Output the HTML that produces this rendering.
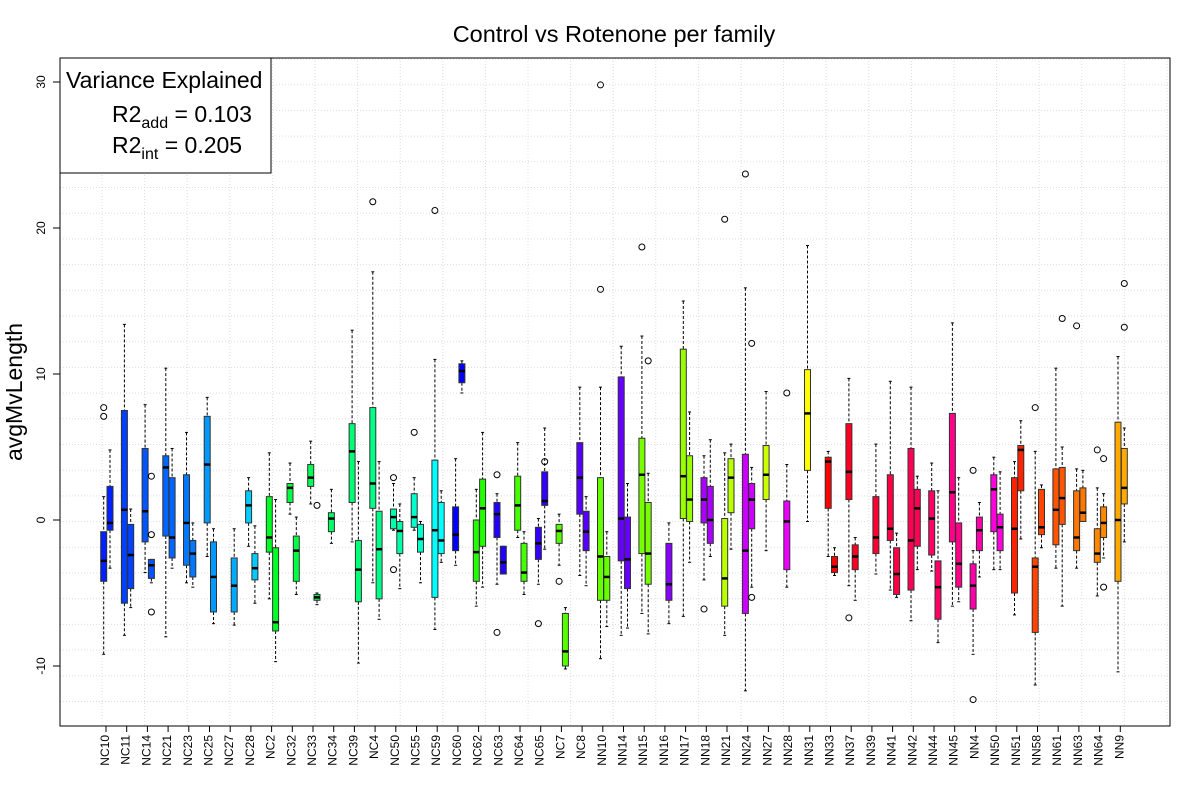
<!DOCTYPE html>
<html><head><meta charset="utf-8"><style>
body{margin:0;background:#fff}
svg{display:block;font-family:"Liberation Sans",sans-serif}
</style></head><body>
<svg id="chart" width="1200" height="800" xmlns="http://www.w3.org/2000/svg">
<rect x="0" y="0" width="1200" height="800" fill="#fff"/>
<g id="grid"></g>
<g id="boxes"></g>
<rect x="60" y="58" width="1110" height="668" fill="none" stroke="#000" stroke-width="1"/>
<g id="axes"></g>
<text x="614" y="42" font-size="23.5" text-anchor="middle">Control vs Rotenone per family</text>
<text transform="translate(22,392) rotate(-90)" font-size="23" text-anchor="middle">avgMvLength</text>
<g>
<rect x="60" y="58" width="211" height="115" fill="#fff" stroke="#000"/>
<text x="66" y="88" font-size="23">Variance Explained</text>
<text x="112" y="122" font-size="23">R2<tspan font-size="16" dy="6">add</tspan><tspan dy="-6"> = 0.103</tspan></text>
<text x="112" y="153" font-size="23">R2<tspan font-size="16" dy="6">int</tspan><tspan dy="-6"> = 0.205</tspan></text>
</g>
</svg>
<script>
const cats=["NC10","NC11","NC14","NC21","NC23","NC25","NC27","NC28","NC2","NC32","NC33","NC34","NC39","NC4","NC50","NC55","NC59","NC60","NC62","NC63","NC64","NC65","NC7","NC8","NN10","NN14","NN15","NN16","NN17","NN18","NN21","NN24","NN27","NN28","NN31","NN33","NN37","NN39","NN41","NN42","NN44","NN45","NN4","NN50","NN51","NN58","NN61","NN63","NN64","NN9"];
const colors=["#0020ff","#0040ff","#0055ff","#0066ff","#0077ff","#0099ff","#00aaff","#00ccff","#00ff22","#00ff44","#00ff55","#00ff66","#00ff77","#00ff88","#00ffaa","#00ffcc","#00ffff","#0000ff","#22ff00","#2200ff","#44ff00","#3300ff","#55ff00","#5500ff","#66ff00","#6600ff","#77ff00","#8800ff","#99ff00","#aa00ff","#bbff00","#cc00ff","#ccff00","#ee00ff","#ffff00","#ff0000","#ff0022","#ff0033","#ff0044","#ff0055","#ff0066","#ff0088","#ff00aa","#ff00dd","#ff2200","#ff4400","#ff5500","#ff7700","#ff8800","#ffaa00"];
// [lowWhisker, q1, median, q3, highWhisker]
const ctrl=[[-9.2,-4.2,-2.8,-0.8,1.6],[-7.9,-5.7,0.7,7.5,13.4],[-3.6,-1.5,0.6,4.9,7.9],[-8.0,-1.1,3.6,4.4,10.4],[-4.3,-3.1,-0.2,3.1,6.0],[-2.5,-0.2,3.8,7.1,8.4],null,[-1.8,-0.2,1.0,2.0,2.9],[-5.4,-2.2,-1.2,1.6,4.6],[0.4,1.2,2.2,2.5,3.9],[1.1,2.3,2.9,3.8,5.4],[-1.6,-0.8,0.1,0.5,2.1],[-1.5,1.2,4.7,6.6,13.0],[-4.3,0.8,2.5,7.7,17.0],[-0.7,-0.6,0.2,0.75,2.5],[-0.7,-0.5,0.2,1.8,2.9],[-7.5,-5.3,-0.7,4.1,11.0],[-3.1,-2.1,-1.0,0.9,4.2],[-5.9,-4.2,-2.2,0,2.1],[-4.4,-1.2,0.4,1.2,1.8],[-1.2,-0.7,1.0,3.0,5.3],[-4.4,-2.7,-1.6,-0.5,0.1],[-3.1,-1.6,-0.75,-0.3,0.4],[-3.8,0.4,2.9,5.3,9.1],[-9.5,-5.5,-2.5,2.9,9.1],[-7.9,-2.8,0.1,9.8,11.9],[-6.4,-2.3,3.1,5.6,12.6],null,[-6.6,0.1,3.0,11.7,15.0],[-4.1,-0.2,1.4,2.9,4.4],[-7.9,-5.9,-4.0,0.1,4.6],[-11.7,-6.4,-2.1,4.5,15.9],[-2.1,1.4,3.1,5.1,8.8],[-4.6,-3.4,-0.1,1.3,3.8],[-0.1,3.4,7.3,10.3,18.8],[-2.5,0.8,4.0,4.3,4.7],[-4.5,1.4,3.3,6.6,9.7],null,[-4.8,-1.4,-0.6,3.1,9.5],[-6.9,-4.8,-1.4,4.9,9.1],[-3.5,-2.4,0.1,2.0,3.9],[-5.9,-1.5,1.9,7.3,13.5],[-9.2,-6.1,-4.5,-3.0,-2.1],[-3.4,-0.8,2.1,3.1,4.3],[-6.5,-5.0,-0.6,2.9,4.0],[-11.3,-7.7,-3.2,-2.6,4.7],[-3.3,-1.7,0.7,3.5,10.4],[-3.3,-2.1,-1.2,2.0,3.5],[-5.2,-2.9,-2.3,-0.6,2.2],[-10.4,-4.2,0,6.7,11.2]];
const rot=[[-3.3,-0.7,-0.2,2.3,4.8],[-6.0,-4.7,-2.4,-0.3,0.75],[-4.3,-4.0,-3.1,-2.7,-2.7],[-3.3,-2.6,-1.2,2.9,4.9],[-4.6,-3.9,-2.3,-1.4,-0.2],[-7.1,-6.3,-3.9,-1.5,-0.6],[-7.2,-6.3,-4.5,-2.6,-0.6],[-5.7,-4.1,-3.3,-2.3,-0.4],[-9.7,-7.6,-7.0,-1.9,1.4],[-5.1,-4.2,-2.1,-1.1,0.2],[-5.8,-5.5,-5.3,-5.1,-5.0],null,[-9.8,-5.6,-3.4,-1.4,4.0],[-6.8,-5.4,-2.0,0.6,4.0],[-4.7,-2.3,-0.75,-0.1,1.1],[-4.3,-2.2,-1.3,-0.3,-0.1],[-2.9,-2.3,-1.4,1.2,2.0],[8.7,9.4,10.2,10.7,10.9],[-4.6,-1.8,0.8,2.8,6.0],[-3.7,-3.7,-2.9,-1.8,-1.8],[-5.1,-4.2,-3.6,-1.6,-0.8],[-2.0,1.0,1.3,3.3,6.3],[-10.2,-10.0,-9.0,-6.4,-6.0],[-4.5,-2.1,-0.8,0.6,1.6],[-7.3,-5.5,-3.9,-2.5,-0.8],[-7.4,-4.7,-2.7,0.2,2.5],[-7.8,-4.4,-2.3,1.2,3.2],[-7.1,-5.5,-4.4,-1.6,-0.2],[-2.9,-0.1,1.4,4.4,7.4],[-2.5,-1.6,0,2.3,5.5],[-2.0,0.5,2.9,4.2,5.2],[-4.6,-0.6,1.4,2.5,3.6],null,null,null,[-3.8,-3.6,-3.2,-2.5,-1.9],[-5.5,-3.4,-2.5,-1.7,-1.2],[-3.7,-2.3,-1.2,1.6,5.2],[-5.3,-5.1,-3.7,-1.9,-0.9],[-3.4,-1.8,0.8,2.1,3.0],[-8.4,-6.8,-4.6,-2.8,2.0],[-5.6,-4.6,-3.0,-0.2,2.9],[-3.9,-2.1,-0.7,0.2,1.2],[-3.4,-2.1,-0.5,0.4,3.3],[-1.3,2.0,4.8,5.1,6.8],[-1.9,-1.0,-0.5,2.1,2.4],[-5.9,-0.3,1.5,3.6,5.0],[-0.1,-0.1,0.5,2.2,3.4],[-2.6,-1.2,-0.2,0.9,1.8],[-1.5,1.1,2.2,4.9,6.3]];
const ctrlOut={NC10:[7.1,7.7],NC4:[21.8],NC50:[2.9,-3.4],NC55:[6.0],NC59:[21.2],NC63:[3.1,-7.7],NC65:[-7.1],NC7:[-4.2],NN10:[29.8,15.8],NN15:[18.7],NN18:[-6.1],NN21:[20.6],NN24:[23.7],NN28:[8.7],NN37:[-6.7],NN4:[3.4,-12.3],NN58:[7.7],NN63:[13.3],NN64:[4.8]};
const rotOut={NC14:[3.0,-1.0,-6.3],NC33:[1.0],NC65:[4.0],NN15:[10.9],NN24:[12.1,-5.3],NN61:[13.8],NN64:[4.2,-4.6],NN9:[16.2,13.2]};
const yTicks=[-10,0,10,20,30];

const NS="http://www.w3.org/2000/svg";
const yS=v=>520-v*14.6;
const xC=i=>107+20.7*i;
function mk(tag,attrs,parent){const e=document.createElementNS(NS,tag);for(const k in attrs)e.setAttribute(k,attrs[k]);parent.appendChild(e);return e;}
const grid=document.getElementById('grid'),boxes=document.getElementById('boxes'),axes=document.getElementById('axes');
for(let y=341.7-25.7*11;y<726;y+=25.7){if(y<58)continue;const l=mk('line',{x1:60,x2:1170,y1:y,y2:y,stroke:'#ddd','stroke-dasharray':'1,2'},grid);

}
for(let x=102;x<1170;x+=42.6){const l=mk('line',{x1:x,x2:x,y1:58,y2:726,stroke:'#ddd','stroke-dasharray':'1,2'},grid);

}
function drawBox(s,x0,col,outs,name){
  const g=mk('g',{},boxes);
  
  
  const xm=x0+3;
  mk('line',{x1:xm,x2:xm,y1:yS(s[4]),y2:yS(s[3]),stroke:'#000','stroke-dasharray':'3,2'},g);
  mk('line',{x1:xm,x2:xm,y1:yS(s[1]),y2:yS(s[0]),stroke:'#000','stroke-dasharray':'3,2'},g);
  mk('line',{x1:xm-1.5,x2:xm+1.5,y1:yS(s[4]),y2:yS(s[4]),stroke:'#000'},g);
  mk('line',{x1:xm-1.5,x2:xm+1.5,y1:yS(s[0]),y2:yS(s[0]),stroke:'#000'},g);
  mk('rect',{x:x0,y:yS(s[3]),width:6,height:Math.max(1,yS(s[1])-yS(s[3])),fill:col,stroke:'#333','stroke-width':1},g);
  mk('line',{x1:x0,x2:x0+6,y1:yS(s[2]),y2:yS(s[2]),stroke:'#000','stroke-width':2.5},g);
  (outs||[]).forEach(v=>{const c=mk('circle',{cx:xm,cy:yS(v),r:3,fill:'none',stroke:'#000'},g);
    
    });
}
cats.forEach((c,i)=>{
  const x=xC(i);
  if(ctrl[i])drawBox(ctrl[i],x-6.3,colors[i],ctrlOut[c],'box-control-'+c.toLowerCase());
  if(rot[i])drawBox(rot[i],x,colors[i],rotOut[c],'box-rotenone-'+c.toLowerCase());
  const t=mk('line',{x1:x-1,x2:x-1,y1:726,y2:732,stroke:'#000'},axes);
  
  
  const lb=mk('text',{transform:`translate(${x+2},735) rotate(-90)`,'font-size':12,'text-anchor':'end'},axes);
  lb.textContent=c;
  
  
});
yTicks.forEach(v=>{
  const t=mk('line',{x1:53,x2:60,y1:yS(v),y2:yS(v),stroke:'#000'},axes);
  
  
  const lb=mk('text',{transform:`translate(45,${yS(v)}) rotate(-90)`,'font-size':12,'text-anchor':'middle'},axes);
  lb.textContent=v;
  
  
});
</script>
</body></html>
